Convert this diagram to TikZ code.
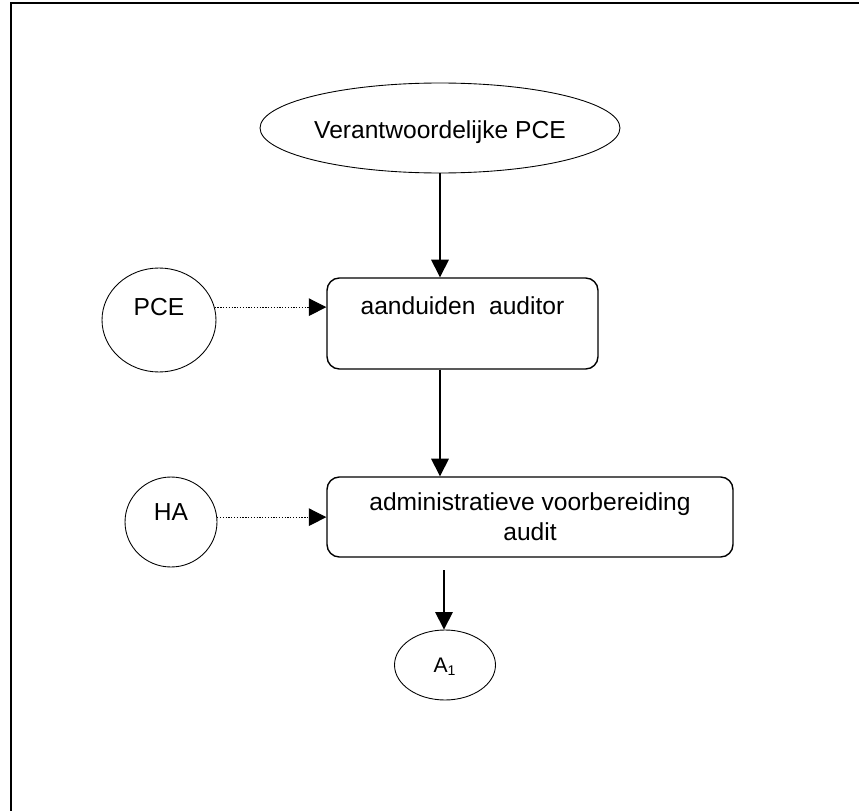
\documentclass[tikz,border=0pt]{standalone}
\usepackage{fontspec}
\setmainfont{Liberation Sans}
\usetikzlibrary{shapes.geometric,arrows.meta}

\begin{document}
\begin{tikzpicture}[x=0.02cm,y=-0.02cm,>={Triangle[length=10pt,width=10pt]},
                    font=\fontsize{14}{17}\selectfont,
                    ell node/.style={ellipse,draw,line width=0.5pt,inner sep=0pt},
                    task node/.style={rectangle,draw,rounded corners=7pt,line width=0.8pt,
                                      align=center,inner sep=0pt},
                    flow/.style={->,line width=0.8pt},
                    feed/.style={->,line width=0.6pt,dash pattern=on 0.7pt off 0.9pt}]
  \useasboundingbox (0,0) rectangle (859,811);
  \draw[line width=1.2pt] (11,900) -- (11,3) -- (950,3);

  \node[ell node,minimum width=7.2cm,minimum height=1.8cm,
        label={[text height=0.53cm,text depth=0.09cm]center:Verantwoordelijke PCE}] (resp) at (440,128) {};
  \node[task node,minimum width=5.42cm,minimum height=1.82cm,
        text height=0.35cm,text depth=0.73cm] (aand) at (462.5,323.5) {aanduiden~~auditor};
  \node[task node,minimum width=8.12cm,minimum height=1.6cm] (admin) at (530,517) {administratieve voorbereiding\\audit};
  \node[ell node,minimum width=2.28cm,minimum height=2.08cm,text height=0.35cm,text depth=0.55cm] (pce) at (159,320) {PCE};
  \node[ell node,minimum width=1.84cm,minimum height=1.8cm,text height=0.35cm,text depth=0.43cm] (ha) at (171,522) {HA};
  \node[ell node,minimum width=2.02cm,minimum height=1.4cm,font=\fontsize{12}{14}\selectfont,
        text height=0.30cm,text depth=0.02cm] (a1) at (445,665) {A\textsubscript{1}};
  \coordinate (a1in) at (444,570);

  \path[flow]
    (resp.south -| 440,0) edge (aand.north -| 440,0)
    (aand.south -| 440,0) edge (admin.north -| 440,0)
    (a1in) edge (a1.north -| a1in);
  \path[feed]
    (pce.13) edge (pce.13 -| aand.west)
    (ha.6) edge (ha.6 -| admin.west);
\end{tikzpicture}
\end{document}
